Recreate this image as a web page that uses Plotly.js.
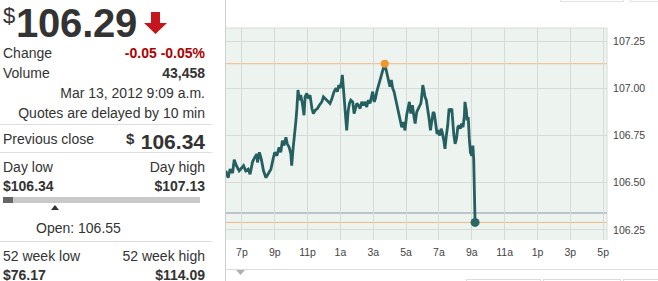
<!DOCTYPE html>
<html>
<head>
<meta charset="utf-8">
<script src="https://cdn.plot.ly/plotly-3.0.1.min.js"></script>
<style>
  html, body { margin:0; padding:0; background:#fff; }
  body { width:658px; height:281px; overflow:hidden; position:relative;
         font-family: Arial, "Liberation Sans", sans-serif; color:#333; }
  .t { position:absolute; white-space:nowrap; line-height:1; font-size:14px; }
  .r { text-align:right; right:453px; }
  .b { font-weight:bold; }
  .sep { position:absolute; left:0; width:212px; height:1px; background:#dedede; }
  #chart { position:absolute; left:0; top:0; width:658px; height:281px; }
</style>
</head>
<body>
<script>
// ---- quote panel values ----
const lastPrice = 106.29;
const changeAbs = -0.05;
const changePct = -0.05;
const volume = "43,458";
const quoteTime = "Mar 13, 2012 9:09 a.m.";
const prevClose = 106.34;
const dayLow = 106.34;
const dayHigh = 107.13;
const openPrice = 106.55;
const week52Low = 76.17;
const week52High = 114.09;

// ---- intraday series (Mar 12 6p -> Mar 13 9a) ----
const times = ["18:01","18:10","18:17","18:26","18:32","18:40","18:50","18:58","19:06","19:14","19:23","19:30","19:39","19:47","19:55","19:57","20:04","20:11","20:19","20:28","20:36","20:46","20:54","21:00","21:08","21:16","21:22","21:28","21:34","21:41","21:46","21:53","21:59","22:02","22:07","22:13","22:17","22:21","22:25","22:30","22:35","22:41","22:47","22:51","22:57","23:02","23:09","23:16","23:21","23:28","23:36","23:43","23:52","23:58","00:04","00:10","00:16","00:22","00:29","00:37","00:44","00:49","00:54","00:59","01:04","01:07","01:11","01:16","01:21","01:23","01:28","01:33","01:38","01:45","01:50","01:55","02:00","02:06","02:12","02:18","02:24","02:30","02:36","02:42","02:48","02:55","02:58","03:03","03:08","03:13","03:19","03:25","03:31","03:37","03:42","03:47","03:52","03:57","04:01","04:06","04:11","04:16","04:21","04:26","04:32","04:38","04:44","04:50","04:56","05:02","05:08","05:12","05:17","05:23","05:29","05:33","05:39","05:47","05:54","05:57","06:01","06:06","06:09","06:14","06:19","06:24","06:29","06:34","06:39","06:43","06:48","06:53","06:58","07:03","07:08","07:12","07:18","07:22","07:27","07:32","07:37","07:42","07:47","07:50","07:54","07:59","08:04","08:09","08:13","08:18","08:23","08:28","08:33","08:35","08:40","08:43","08:47","08:51","08:55","09:00","09:04","09:07","09:09","09:11","09:12"];
const prices = [106.563,106.527,106.572,106.551,106.622,106.590,106.563,106.580,106.590,106.563,106.572,106.545,106.611,106.634,106.652,106.607,106.661,106.625,106.563,106.527,106.545,106.572,106.625,106.661,106.643,106.687,106.661,106.723,106.697,106.741,106.706,106.687,106.652,106.590,106.679,106.750,106.821,106.893,106.991,106.937,106.964,106.920,106.857,106.955,106.973,106.946,106.964,106.893,106.866,106.884,106.893,106.910,106.928,106.955,106.946,106.937,106.928,106.920,106.946,106.982,107.000,106.982,107.017,107.000,107.035,107.071,107.000,106.910,106.857,106.777,106.875,106.920,106.937,106.928,106.866,106.893,106.920,106.910,106.893,106.928,106.910,106.928,106.901,106.937,106.920,106.964,106.982,106.928,106.946,106.982,107.017,107.044,107.080,107.107,107.130,107.098,107.071,107.035,107.008,107.044,107.000,106.982,106.946,106.910,106.875,106.839,106.794,106.821,106.777,106.857,106.910,106.928,106.866,106.910,106.848,106.813,106.875,106.901,106.920,106.955,107.017,106.982,106.955,106.937,106.893,106.839,106.777,106.839,106.875,106.866,106.821,106.759,106.768,106.750,106.786,106.768,106.723,106.679,106.750,106.803,106.893,106.875,106.893,106.821,106.759,106.706,106.732,106.794,106.803,106.786,106.813,106.794,106.857,106.928,106.884,106.830,106.848,106.732,106.661,106.643,106.697,106.625,106.500,106.393,106.290];

// ---- axes ----
const xTickTimes = ["19:00","21:00","23:00","01:00","03:00","05:00","07:00","09:00","11:00","13:00","15:00","17:00"];
const xTickLabels = ["7p","9p","11p","1a","3a","5a","7a","9a","11a","1p","3p","5p"];
const yTicks = [106.25, 106.50, 106.75, 107.00, 107.25];
const xRange = ["18:02","17:14"];
const yRange = [106.197, 107.319];
</script>

<!-- left quote panel -->
<div class="t" style="left:3px;top:5px;font-size:22px;">$</div>
<div class="t b" id="bigPrice" style="left:16px;top:3px;font-size:40px;letter-spacing:-0.2px;"></div>
<svg style="position:absolute;left:143px;top:11px;" width="26" height="25">
  <polygon points="8,1 17,1 17,12 24,12 12.5,23 1,12 8,12" fill="#c4161c"/>
</svg>

<div class="t" style="left:3px;top:46px;">Change</div>
<div class="t r b" id="chg" style="top:46px;color:#b00000;"></div>
<div class="t" style="left:3px;top:65.5px;">Volume</div>
<div class="t r b" id="vol" style="top:65.5px;"></div>
<div class="t r" id="qtime" style="top:85.5px;"></div>
<div class="t r" style="top:105.5px;">Quotes are delayed by 10 min</div>
<div class="sep" style="top:124px;"></div>

<div class="t" style="left:3px;top:132px;">Previous close</div>
<div class="t b" style="left:126px;top:131px;font-size:15px;">$</div>
<div class="t r b" id="prev" style="top:130.5px;font-size:21px;"></div>
<div class="sep" style="top:152px;"></div>

<div class="t" style="left:3px;top:160px;">Day low</div>
<div class="t r" style="top:160px;">Day high</div>
<div class="t b" id="dlow" style="left:3px;top:179px;"></div>
<div class="t r b" id="dhigh" style="top:179px;"></div>
<div id="rangeBar" style="position:absolute;left:3px;top:197px;width:197px;height:6px;background:#c9c9c9;"></div>
<div id="rangeFill" style="position:absolute;left:3px;top:197px;height:6px;background:#666;"></div>
<svg id="openMark" style="position:absolute;top:205px;" width="8" height="5">
  <polygon points="0,5 4,0 8,5" fill="#333"/>
</svg>
<div class="t" id="openTxt" style="left:36px;top:220.5px;"></div>
<div class="sep" style="top:241px;"></div>

<div class="t" style="left:3px;top:249px;">52 week low</div>
<div class="t r" style="top:249px;">52 week high</div>
<div class="t b" id="wlow" style="left:3px;top:267.5px;"></div>
<div class="t r b" id="whigh" style="top:267.5px;"></div>

<!-- chart frame pieces -->
<div style="position:absolute;left:225px;top:0;width:1px;height:281px;background:#cfcfcf;"></div>
<div style="position:absolute;left:560px;top:-20px;width:62px;height:20px;border:1px solid #e2e2e2;"></div>
<div style="position:absolute;left:630px;top:-20px;width:40px;height:20px;border:1px solid #e2e2e2;"></div>
<div style="position:absolute;left:226px;top:269px;width:432px;height:1px;background:#dcdcdc;"></div>
<svg style="position:absolute;left:236px;top:270px;" width="9" height="5"><polygon points="0,0 9,0 4.5,5" fill="#b0b0b0"/></svg>
<div style="position:absolute;left:466px;top:279px;width:73px;height:10px;border:1px solid #dcdcdc;"></div>
<div style="position:absolute;left:543px;top:279px;width:76px;height:10px;border:1px solid #dcdcdc;"></div>
<div style="position:absolute;left:623px;top:279px;width:40px;height:10px;border:1px solid #dcdcdc;"></div>

<div id="chart"></div>

<script>
function fmt2(v){ return v.toFixed(2); }
document.getElementById('bigPrice').textContent = fmt2(lastPrice);
document.getElementById('chg').textContent = fmt2(changeAbs) + ' ' + fmt2(changePct) + '%';
document.getElementById('vol').textContent = volume;
document.getElementById('qtime').textContent = quoteTime;
document.getElementById('prev').textContent = fmt2(prevClose);
document.getElementById('dlow').textContent = '$' + fmt2(dayLow);
document.getElementById('dhigh').textContent = '$' + fmt2(dayHigh);
document.getElementById('openTxt').textContent = 'Open: ' + fmt2(openPrice);
document.getElementById('wlow').textContent = '$' + fmt2(week52Low);
document.getElementById('whigh').textContent = '$' + fmt2(week52High);

// day range bar
const barW = 197;
const openX = 3 + (openPrice - dayLow) / (dayHigh - dayLow) * barW;
document.getElementById('openMark').style.left = (openX - 4) + 'px';
const fillFrac = Math.max(0.05, (lastPrice - dayLow + 0.04) / (dayHigh - dayLow));
document.getElementById('rangeFill').style.width = Math.round(fillFrac * barW) + 'px';

function toDate(hm){
  const h = parseInt(hm.slice(0,2),10);
  return (h >= 18 ? '2012-03-12 ' : '2012-03-13 ') + hm;
}
const xs = times.map(toDate);

const iMax = prices.indexOf(Math.max(...prices));
const iLast = prices.length - 1;

const traces = [
  { x: xs, y: prices, type:'scatter', mode:'lines',
    line:{color:'#255f60', width:2.8}, hoverinfo:'skip' },
  { x:[xs[iMax]], y:[prices[iMax]], type:'scatter', mode:'markers',
    marker:{color:'#f0962e', size:8}, hoverinfo:'skip' },
  { x:[xs[iLast]], y:[prices[iLast]], type:'scatter', mode:'markers',
    marker:{color:'#2a6663', size:9}, hoverinfo:'skip' }
];

const hline = (v, c) => ({type:'line', xref:'paper', x0:0, x1:1, yref:'y', y0:v, y1:v,
                          line:{color:c, width:1}, layer:'below'});

const layout = {
  width:658, height:281,
  margin:{l:226, r:51, t:28, b:41, pad:0},
  paper_bgcolor:'rgba(0,0,0,0)',
  plot_bgcolor:'#edf3ef',
  showlegend:false,
  font:{family:'Arial, "Liberation Sans", sans-serif', size:10.5, color:'#444'},
  xaxis:{type:'date', range:xRange.map(toDate),
         tickvals:xTickTimes.map(toDate), ticktext:xTickLabels,
         showgrid:true, gridcolor:'#d5dcd8', gridwidth:1, zeroline:false,
         showline:false, ticks:'outside', ticklen:2, tickcolor:'rgba(0,0,0,0)',
         fixedrange:true},
  yaxis:{side:'right', range:yRange, tickvals:yTicks, ticktext:yTicks.map(fmt2),
         showgrid:true, gridcolor:'#d5dcd8', gridwidth:1, zeroline:false,
         showline:false, ticks:'outside', ticklen:3, tickcolor:'rgba(0,0,0,0)',
         fixedrange:true},
  shapes:[
    hline(dayHigh, '#f3b880'),
    hline(lastPrice, '#f3b880'),
    hline(prevClose, '#8c91a8'),
    {type:'line', xref:'paper', yref:'paper', x0:0, x1:1, y0:1, y1:1, line:{color:'#d6d9d7', width:1}},
    {type:'line', xref:'paper', yref:'paper', x0:1, x1:1, y0:0, y1:1, line:{color:'#d5dcd8', width:1}}
  ]
};

Plotly.newPlot('chart', traces, layout, {staticPlot:true, displayModeBar:false});
</script>
</body>
</html>
